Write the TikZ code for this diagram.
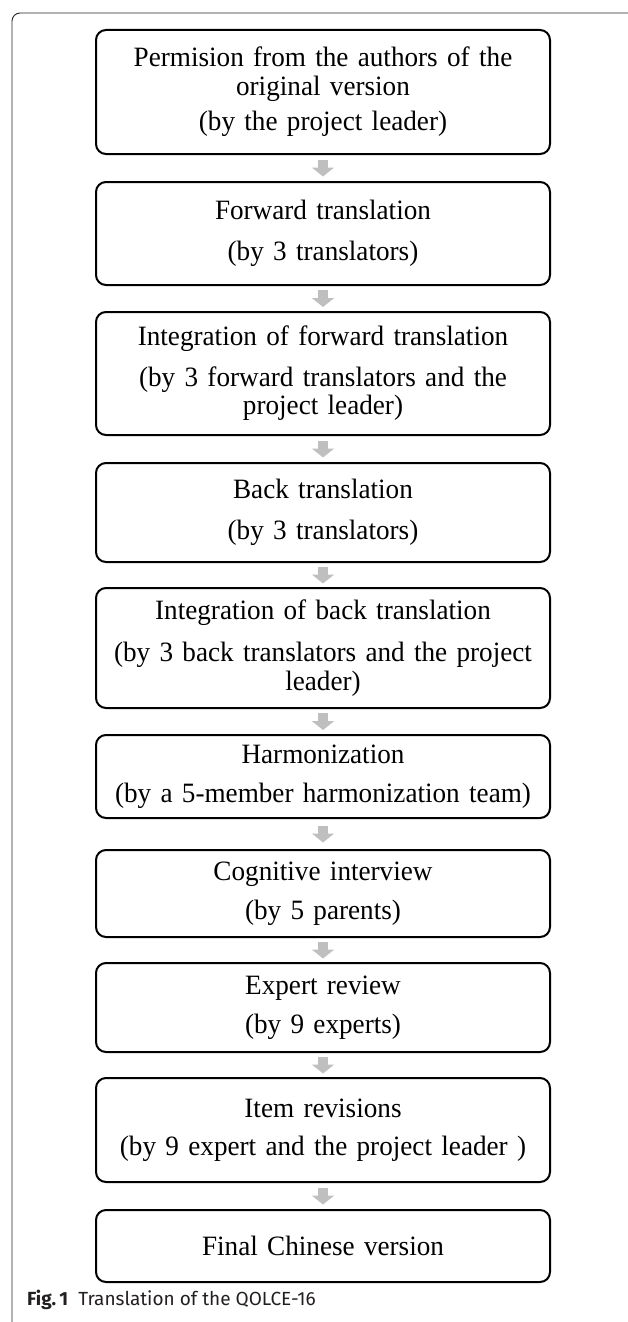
\documentclass[tikz,border=0pt]{standalone}
\usepackage{fontspec}
\setmainfont{Liberation Serif}[FakeStretch=0.97,WordSpace=0.75]
\setsansfont{Fira Sans}
\usetikzlibrary{arrows.meta,calc}
\definecolor{arrowgray}{RGB}{191,191,191}
\definecolor{captiongray}{RGB}{35,31,32}
\tikzset{
  stepbox/.style={draw=black, line width=2pt, rounded corners=10pt,
    minimum width=454pt, text width=440pt, align=center, inner sep=0pt,
    font=\fontsize{28}{28.5}\selectfont},
  flowarrow/.style={draw=arrowgray, line width=10pt,
    -{Triangle[width=22pt,length=9pt]}},
  frameline/.style={draw=black!85, line width=0.9pt, rounded corners=8pt}
}
\begin{document}
\begin{tikzpicture}[x=1pt,y=-1pt]
\useasboundingbox (0,0) rectangle (628,1322);
\draw[frameline] (12,1322) -- (12,13) -- (628,13);
\node[stepbox, minimum height=124pt] (b1) at (323,92)
  {Permision from the authors of the\\original version\\[7pt](by the project leader)};
\node[stepbox, minimum height=103pt] (b2) at (323,233.5)
  {Forward translation\\[12pt](by 3 translators)};
\node[stepbox, minimum height=123pt] (b3) at (323,373.5)
  {Integration of forward translation\\[12pt](by 3 forward translators and the\\project leader)};
\node[stepbox, minimum height=99pt] (b4) at (323,512.5)
  {Back translation\\[12pt](by 3 translators)};
\node[stepbox, minimum height=120pt] (b5) at (323,648)
  {Integration of back translation\\[14pt](by 3 back translators and the project\\leader)};
\node[stepbox, minimum height=83pt] (b6) at (323,776.5)
  {Harmonization\\[10pt](by a 5-member harmonization team)};
\node[stepbox, minimum height=87pt] (b7) at (323,893.5)
  {Cognitive interview\\[10pt](by 5 parents)};
\node[stepbox, minimum height=89pt] (b8) at (323,1007.5)
  {Expert review\\[10pt](by 9 experts)};
\node[stepbox, minimum height=104pt] (b9) at (323,1130)
  {Item revisions\\[10pt](by 9 expert and the project leader )};
\node[stepbox, minimum height=72pt] (b10) at (323,1246)
  {Final Chinese version};
\foreach \a/\b in {b1/b2,b2/b3,b3/b4,b4/b5,b5/b6,b6/b7,b7/b8,b8/b9,b9/b10}{
  \draw[flowarrow] ($($(\a.south)!0.5!(\b.north)$)+(0,-8.5)$) -- ($($(\a.south)!0.5!(\b.north)$)+(0,8.5)$);
}
\node[anchor=base west, inner sep=0pt, text=captiongray,
  font=\sffamily\fontsize{19}{22}\selectfont] (cap) at (27,1305)
  {\textbf{Fig.\,1}\hspace{10pt}Translation of the QOLCE-16};
\end{tikzpicture}
\end{document}
